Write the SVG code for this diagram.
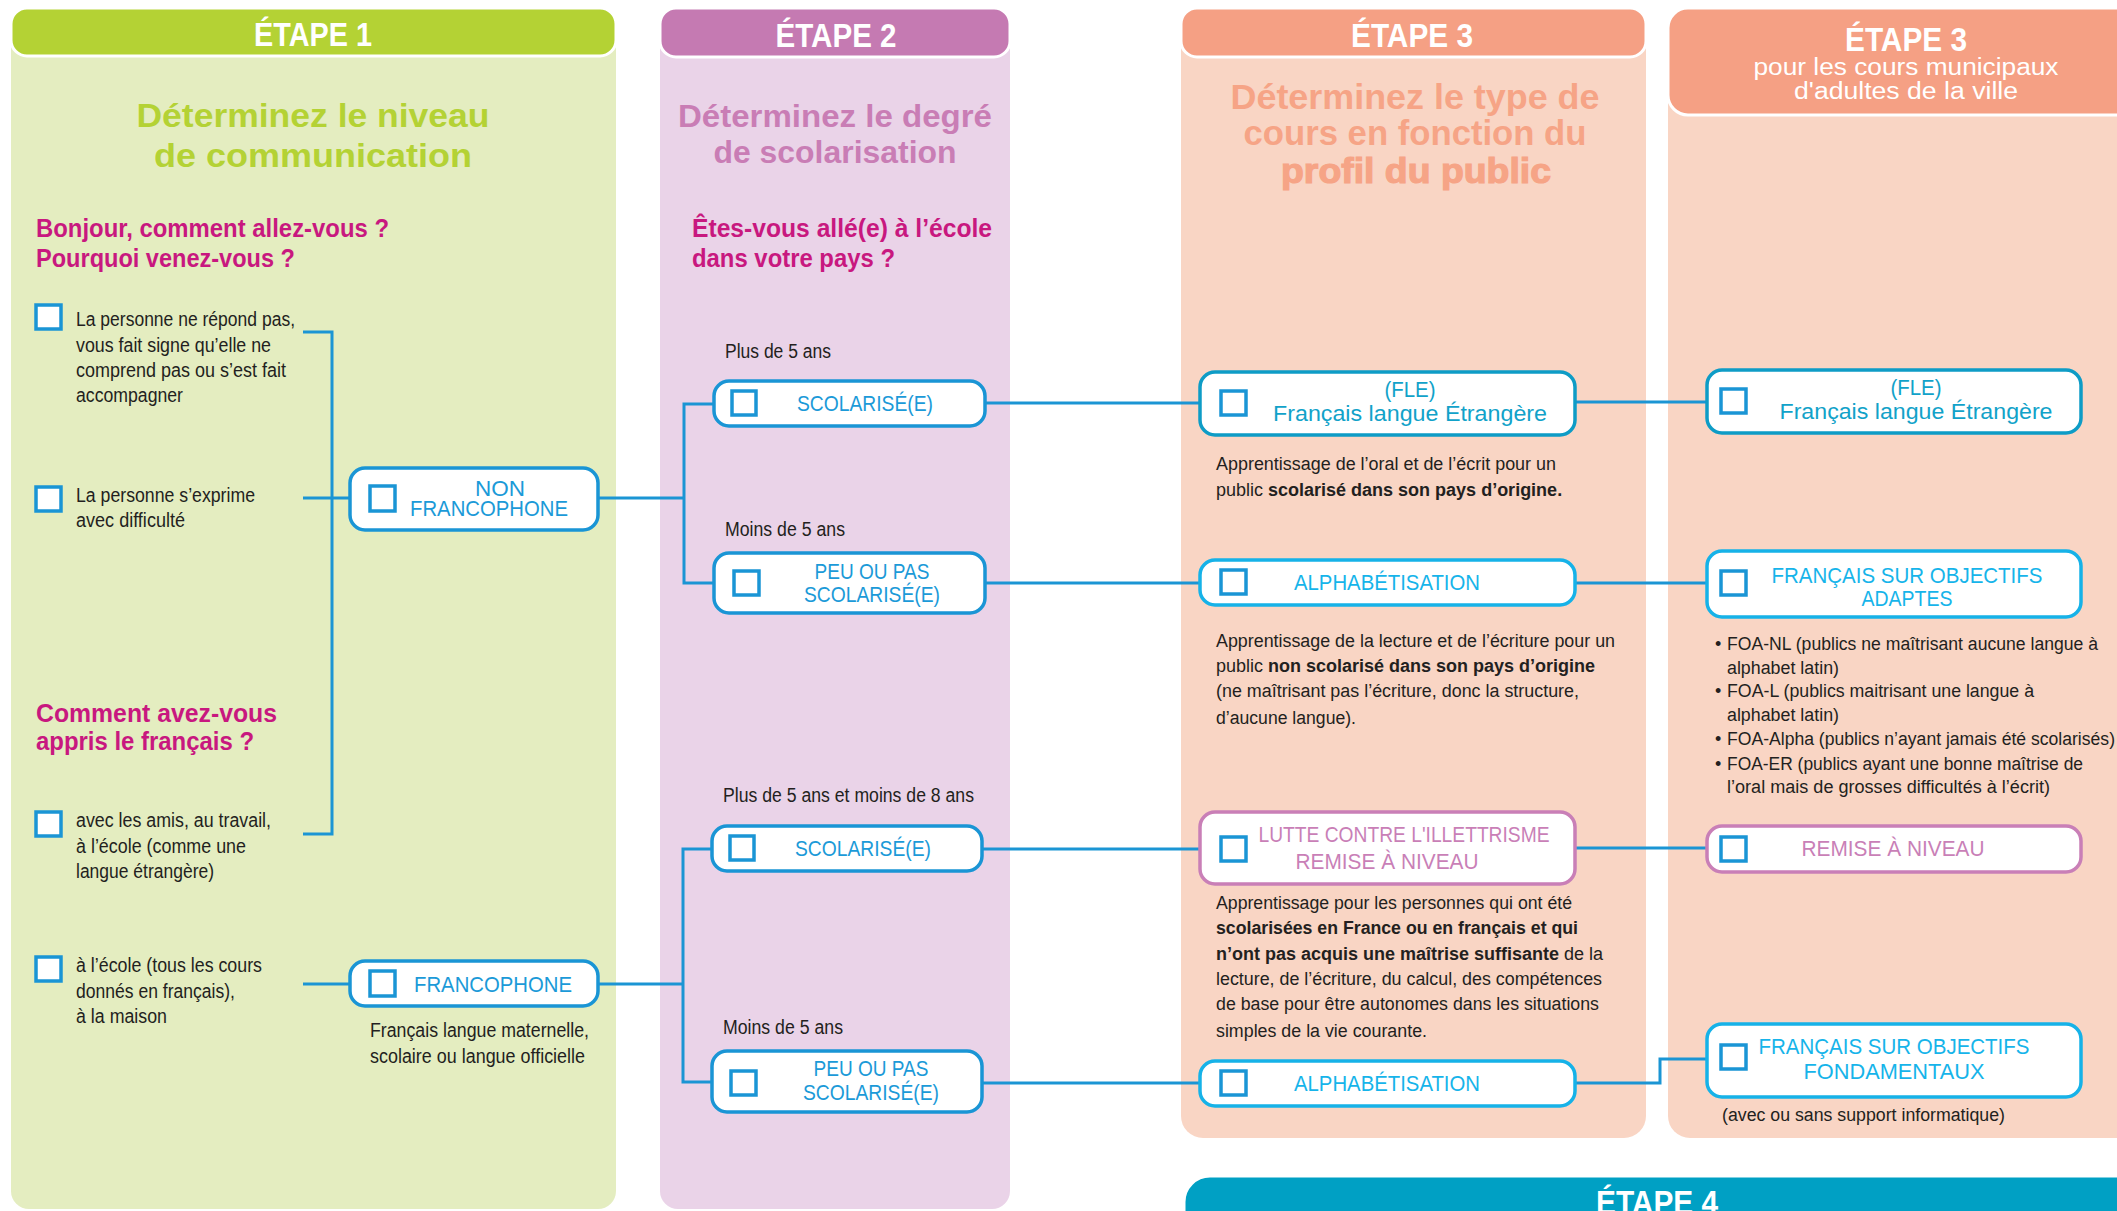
<svg xmlns="http://www.w3.org/2000/svg" width="2117" height="1211" viewBox="0 0 2117 1211">
<style>
text{font-family:"Liberation Sans",Arial,sans-serif}
.hd{font-weight:bold;fill:#fff;font-size:33px;text-anchor:middle}
.ttl{font-weight:bold;text-anchor:middle}
.q{fill:#c8187f;font-weight:bold;font-size:25px}
.t{fill:#231f20;font-size:20px}
.d{fill:#231f20;font-size:18px}
.b{font-weight:bold}
.nd{fill:#fff;stroke-width:3.5}
.blue{stroke:#1a95d5}
.teal{stroke:#0e9cc6}
.cyan{stroke:#16b2e8}
.pink{stroke:#c97fb7}
.cb{fill:#fff;stroke:#1a95d5;stroke-width:3.5}
.nt{font-size:22px;text-anchor:middle}
.tb{fill:#1b9ad8}
.tt{fill:#11a2c9}
.tc{fill:#16b4ea}
.tp{fill:#c97fb7}
.conn path{stroke:#1b95d4;stroke-width:3;fill:none}
</style>

<g id="panel1">
<rect x="11" y="10" width="605" height="1199" rx="18" fill="#e4edc0"/>
<rect x="11" y="8" width="605" height="48" rx="16" fill="#b4d234" stroke="#fff" stroke-width="3"/>
<text class="hd" x="313" y="46" font-size="35" textLength="118" lengthAdjust="spacingAndGlyphs">ÉTAPE 1</text>
<text class="ttl" x="313" y="127" font-size="34" fill="#b4d234" textLength="353" lengthAdjust="spacingAndGlyphs">Déterminez le niveau</text>
<text class="ttl" x="313" y="167" font-size="34" fill="#b4d234" textLength="318" lengthAdjust="spacingAndGlyphs">de communication</text>
<text class="q" x="36" y="237" textLength="353" lengthAdjust="spacingAndGlyphs">Bonjour, comment allez-vous ?</text>
<text class="q" x="36" y="267" textLength="259" lengthAdjust="spacingAndGlyphs">Pourquoi venez-vous ?</text>
<text class="q" x="36" y="722" textLength="241" lengthAdjust="spacingAndGlyphs">Comment avez-vous</text>
<text class="q" x="36" y="750" textLength="218" lengthAdjust="spacingAndGlyphs">appris le français ?</text>
</g>

<g id="opt1">
<rect class="cb" x="36" y="305" width="25" height="24"/>
<text class="t" x="76" y="326" textLength="219" lengthAdjust="spacingAndGlyphs">La personne ne répond pas,</text>
<text class="t" x="76" y="352" textLength="195" lengthAdjust="spacingAndGlyphs">vous fait signe qu’elle ne</text>
<text class="t" x="76" y="377" textLength="210" lengthAdjust="spacingAndGlyphs">comprend pas ou s’est fait</text>
<text class="t" x="76" y="402" textLength="107" lengthAdjust="spacingAndGlyphs">accompagner</text>
</g>
<g id="opt2">
<rect class="cb" x="36" y="487" width="25" height="24"/>
<text class="t" x="76" y="502" textLength="179" lengthAdjust="spacingAndGlyphs">La personne s’exprime</text>
<text class="t" x="76" y="527" textLength="109" lengthAdjust="spacingAndGlyphs">avec difficulté</text>
</g>
<g id="opt3">
<rect class="cb" x="36" y="812" width="25" height="24"/>
<text class="t" x="76" y="827" textLength="195" lengthAdjust="spacingAndGlyphs">avec les amis, au travail,</text>
<text class="t" x="76" y="853" textLength="170" lengthAdjust="spacingAndGlyphs">à l’école (comme une</text>
<text class="t" x="76" y="878" textLength="138" lengthAdjust="spacingAndGlyphs">langue étrangère)</text>
</g>
<g id="opt4">
<rect class="cb" x="36" y="957" width="25" height="24"/>
<text class="t" x="76" y="972" textLength="186" lengthAdjust="spacingAndGlyphs">à l’école (tous les cours</text>
<text class="t" x="76" y="998" textLength="159" lengthAdjust="spacingAndGlyphs">donnés en français),</text>
<text class="t" x="76" y="1023" textLength="91" lengthAdjust="spacingAndGlyphs">à la maison</text>
</g>

<g id="panel2">
<rect x="660" y="10" width="350" height="1199" rx="18" fill="#ead3e8"/>
<rect x="660" y="8" width="350" height="49" rx="16" fill="#c57ab2" stroke="#fff" stroke-width="3"/>
<text class="hd" x="836" y="47" textLength="121" lengthAdjust="spacingAndGlyphs">ÉTAPE 2</text>
<text class="ttl" x="835" y="127" font-size="32" fill="#c97db5" textLength="314" lengthAdjust="spacingAndGlyphs">Déterminez le degré</text>
<text class="ttl" x="835" y="163" font-size="32" fill="#c97db5" textLength="243" lengthAdjust="spacingAndGlyphs">de scolarisation</text>
<text class="q" x="692" y="237" textLength="300" lengthAdjust="spacingAndGlyphs">Êtes-vous allé(e) à l’école</text>
<text class="q" x="692" y="267" textLength="203" lengthAdjust="spacingAndGlyphs">dans votre pays ?</text>
<text class="t" x="725" y="358" textLength="106" lengthAdjust="spacingAndGlyphs">Plus de 5 ans</text>
<text class="t" x="725" y="536" textLength="120" lengthAdjust="spacingAndGlyphs">Moins de 5 ans</text>
<text class="t" x="723" y="802" textLength="251" lengthAdjust="spacingAndGlyphs">Plus de 5 ans et moins de 8 ans</text>
<text class="t" x="723" y="1034" textLength="120" lengthAdjust="spacingAndGlyphs">Moins de 5 ans</text>
</g>

<g id="panel3">
<rect x="1181" y="10" width="465" height="1128" rx="22" fill="#f9d5c4"/>
<rect x="1181" y="8" width="465" height="49" rx="16" fill="#f5a084" stroke="#fff" stroke-width="3"/>
<text class="hd" x="1412" y="47" textLength="122" lengthAdjust="spacingAndGlyphs">ÉTAPE 3</text>
<text class="ttl" x="1415" y="109" font-size="35" fill="#f6a486" textLength="369" lengthAdjust="spacingAndGlyphs">Déterminez le type de</text>
<text class="ttl" x="1415" y="145" font-size="35" fill="#f6a486" textLength="343" lengthAdjust="spacingAndGlyphs">cours en fonction du</text>
<text class="ttl" x="1416" y="183" font-size="35" fill="#f6a486" stroke="#f6a486" stroke-width="1.2" textLength="270" lengthAdjust="spacingAndGlyphs">profil du public</text>
<text class="d" x="1216" y="470" textLength="340" lengthAdjust="spacingAndGlyphs">Apprentissage de l’oral et de l’écrit pour un</text>
<text class="d" x="1216" y="496">public <tspan class="b">scolarisé dans son pays d’origine.</tspan></text>
<text class="d" x="1216" y="647" textLength="399" lengthAdjust="spacingAndGlyphs">Apprentissage de la lecture et de l’écriture pour un</text>
<text class="d" x="1216" y="672">public <tspan class="b">non scolarisé dans son pays d’origine</tspan></text>
<text class="d" x="1216" y="697" textLength="363" lengthAdjust="spacingAndGlyphs">(ne maîtrisant pas l’écriture, donc la structure,</text>
<text class="d" x="1216" y="724" textLength="140" lengthAdjust="spacingAndGlyphs">d’aucune langue).</text>
<text class="d" x="1216" y="909" textLength="356" lengthAdjust="spacingAndGlyphs">Apprentissage pour les personnes qui ont été</text>
<text class="d b" x="1216" y="934" textLength="362" lengthAdjust="spacingAndGlyphs">scolarisées en France ou en français et qui</text>
<text class="d" x="1216" y="960"><tspan class="b">n’ont pas acquis une maîtrise suffisante</tspan> de la</text>
<text class="d" x="1216" y="985" textLength="386" lengthAdjust="spacingAndGlyphs">lecture, de l’écriture, du calcul, des compétences</text>
<text class="d" x="1216" y="1010" textLength="383" lengthAdjust="spacingAndGlyphs">de base pour être autonomes dans les situations</text>
<text class="d" x="1216" y="1037" textLength="211" lengthAdjust="spacingAndGlyphs">simples de la vie courante.</text>
</g>

<g id="panel4">
<rect x="1668" y="10" width="480" height="1128" rx="22" fill="#f9d5c4"/>
<rect x="1668" y="8" width="480" height="107" rx="20" fill="#f5a084" stroke="#fff" stroke-width="3"/>
<text class="hd" x="1906" y="51" textLength="122" lengthAdjust="spacingAndGlyphs">ÉTAPE 3</text>
<text x="1906" y="75" font-size="23" fill="#fff" text-anchor="middle" textLength="305" lengthAdjust="spacingAndGlyphs">pour les cours municipaux</text>
<text x="1906" y="99" font-size="23" fill="#fff" text-anchor="middle" textLength="224" lengthAdjust="spacingAndGlyphs">d'adultes de la ville</text>
<text class="d" x="1715" y="650" font-size="20">•</text>
<text class="d" x="1727" y="650" textLength="371" lengthAdjust="spacingAndGlyphs">FOA-NL (publics ne maîtrisant aucune langue à</text>
<text class="d" x="1727" y="674" textLength="112" lengthAdjust="spacingAndGlyphs">alphabet latin)</text>
<text class="d" x="1715" y="697" font-size="20">•</text>
<text class="d" x="1727" y="697" textLength="307" lengthAdjust="spacingAndGlyphs">FOA-L (publics maitrisant une langue à</text>
<text class="d" x="1727" y="721" textLength="112" lengthAdjust="spacingAndGlyphs">alphabet latin)</text>
<text class="d" x="1715" y="745" font-size="20">•</text>
<text class="d" x="1727" y="745" textLength="388" lengthAdjust="spacingAndGlyphs">FOA-Alpha (publics n’ayant jamais été scolarisés)</text>
<text class="d" x="1715" y="770" font-size="20">•</text>
<text class="d" x="1727" y="770" textLength="356" lengthAdjust="spacingAndGlyphs">FOA-ER (publics ayant une bonne maîtrise de</text>
<text class="d" x="1727" y="793" textLength="323" lengthAdjust="spacingAndGlyphs">l’oral mais de grosses difficultés à l’écrit)</text>
<text class="d" x="1722" y="1121" textLength="283" lengthAdjust="spacingAndGlyphs">(avec ou sans support informatique)</text>
</g>

<g id="etape4">
<rect x="1184" y="1176" width="960" height="80" rx="26" fill="#00a0c4" stroke="#fff" stroke-width="3"/>
<text class="hd" x="1657" y="1214" textLength="122" lengthAdjust="spacingAndGlyphs">ÉTAPE 4</text>
</g>

<g class="conn" id="connectors">
<path d="M303,332 H332 V834 H303"/>
<path d="M303,498 H350"/>
<path d="M303,984 H350"/>
<path d="M598,498 H684"/>
<path d="M598,984 H683"/>
<path d="M714,404 H684 V583 H714"/>
<path d="M712,849 H683 V1082 H712"/>
<path d="M985,403 H1200"/>
<path d="M985,583 H1200"/>
<path d="M982,849 H1200"/>
<path d="M982,1083 H1200"/>
<path d="M1575,402 H1707"/>
<path d="M1575,583 H1707"/>
<path d="M1575,848 H1707"/>
<path d="M1575,1083 H1660 V1059 H1707"/>
</g>

<g id="n-nonfranco">
<rect class="nd blue" x="350" y="468" width="248" height="62" rx="15"/>
<rect class="cb" x="370" y="486" width="25" height="25"/>
<text class="nt tb" x="500" y="496" textLength="50" lengthAdjust="spacingAndGlyphs">NON</text>
<text class="nt tb" x="489" y="516" textLength="158" lengthAdjust="spacingAndGlyphs">FRANCOPHONE</text>
</g>
<g id="n-franco">
<rect class="nd blue" x="350" y="961" width="248" height="45" rx="15"/>
<rect class="cb" x="370" y="971" width="25" height="25"/>
<text class="nt tb" x="493" y="992" textLength="158" lengthAdjust="spacingAndGlyphs">FRANCOPHONE</text>
<text class="t" x="370" y="1037" textLength="219" lengthAdjust="spacingAndGlyphs">Français langue maternelle,</text>
<text class="t" x="370" y="1063" textLength="215" lengthAdjust="spacingAndGlyphs">scolaire ou langue officielle</text>
</g>

<g id="n-scol1">
<rect class="nd blue" x="714" y="381" width="271" height="45" rx="15"/>
<rect class="cb" x="732" y="391" width="24" height="24"/>
<text class="nt tb" x="865" y="411" textLength="136" lengthAdjust="spacingAndGlyphs">SCOLARISÉ(E)</text>
</g>
<g id="n-peu1">
<rect class="nd blue" x="714" y="553" width="271" height="60" rx="15"/>
<rect class="cb" x="734" y="571" width="25" height="24"/>
<text class="nt tb" x="872" y="579" textLength="115" lengthAdjust="spacingAndGlyphs">PEU OU PAS</text>
<text class="nt tb" x="872" y="602" textLength="136" lengthAdjust="spacingAndGlyphs">SCOLARISÉ(E)</text>
</g>
<g id="n-scol2">
<rect class="nd blue" x="712" y="826" width="270" height="45" rx="15"/>
<rect class="cb" x="730" y="836" width="24" height="24"/>
<text class="nt tb" x="863" y="856" textLength="136" lengthAdjust="spacingAndGlyphs">SCOLARISÉ(E)</text>
</g>
<g id="n-peu2">
<rect class="nd blue" x="712" y="1051" width="270" height="61" rx="15"/>
<rect class="cb" x="731" y="1071" width="25" height="24"/>
<text class="nt tb" x="871" y="1076" textLength="115" lengthAdjust="spacingAndGlyphs">PEU OU PAS</text>
<text class="nt tb" x="871" y="1100" textLength="136" lengthAdjust="spacingAndGlyphs">SCOLARISÉ(E)</text>
</g>

<g id="n-fle1">
<rect class="nd teal" x="1200" y="372" width="375" height="63" rx="15"/>
<rect class="cb" x="1221" y="391" width="25" height="24"/>
<text class="nt tt" x="1410" y="397" textLength="51" lengthAdjust="spacingAndGlyphs">(FLE)</text>
<text class="nt tt" x="1410" y="421" textLength="274" lengthAdjust="spacingAndGlyphs">Français langue Étrangère</text>
</g>
<g id="n-alpha1">
<rect class="nd cyan" x="1200" y="560" width="375" height="45" rx="15"/>
<rect class="cb" x="1221" y="570" width="25" height="24"/>
<text class="nt tc" x="1387" y="590" textLength="186" lengthAdjust="spacingAndGlyphs">ALPHABÉTISATION</text>
</g>
<g id="n-lutte">
<rect class="nd pink" x="1200" y="812" width="375" height="72" rx="15"/>
<rect class="cb" x="1221" y="837" width="25" height="24"/>
<text class="nt tp" x="1404" y="842" textLength="291" lengthAdjust="spacingAndGlyphs">LUTTE CONTRE L'ILLETTRISME</text>
<text class="nt tp" x="1387" y="869" textLength="183" lengthAdjust="spacingAndGlyphs">REMISE À NIVEAU</text>
</g>
<g id="n-alpha2">
<rect class="nd cyan" x="1200" y="1061" width="375" height="45" rx="15"/>
<rect class="cb" x="1221" y="1071" width="25" height="24"/>
<text class="nt tc" x="1387" y="1091" textLength="186" lengthAdjust="spacingAndGlyphs">ALPHABÉTISATION</text>
</g>

<g id="n-fle2">
<rect class="nd teal" x="1707" y="370" width="374" height="63" rx="15"/>
<rect class="cb" x="1721" y="389" width="25" height="24"/>
<text class="nt tt" x="1916" y="395" textLength="51" lengthAdjust="spacingAndGlyphs">(FLE)</text>
<text class="nt tt" x="1916" y="419" textLength="273" lengthAdjust="spacingAndGlyphs">Français langue Étrangère</text>
</g>
<g id="n-fsoa">
<rect class="nd cyan" x="1707" y="551" width="374" height="66" rx="15"/>
<rect class="cb" x="1721" y="571" width="25" height="24"/>
<text class="nt tc" x="1907" y="583" textLength="271" lengthAdjust="spacingAndGlyphs">FRANÇAIS SUR OBJECTIFS</text>
<text class="nt tc" x="1907" y="606" textLength="91" lengthAdjust="spacingAndGlyphs">ADAPTES</text>
</g>
<g id="n-remise">
<rect class="nd pink" x="1707" y="826" width="374" height="46" rx="15"/>
<rect class="cb" x="1721" y="837" width="25" height="24"/>
<text class="nt tp" x="1893" y="856" textLength="183" lengthAdjust="spacingAndGlyphs">REMISE À NIVEAU</text>
</g>
<g id="n-fsof">
<rect class="nd cyan" x="1707" y="1024" width="374" height="73" rx="15"/>
<rect class="cb" x="1721" y="1045" width="25" height="24"/>
<text class="nt tc" x="1894" y="1054" textLength="271" lengthAdjust="spacingAndGlyphs">FRANÇAIS SUR OBJECTIFS</text>
<text class="nt tc" x="1894" y="1079" textLength="181" lengthAdjust="spacingAndGlyphs">FONDAMENTAUX</text>
</g>
</svg>
